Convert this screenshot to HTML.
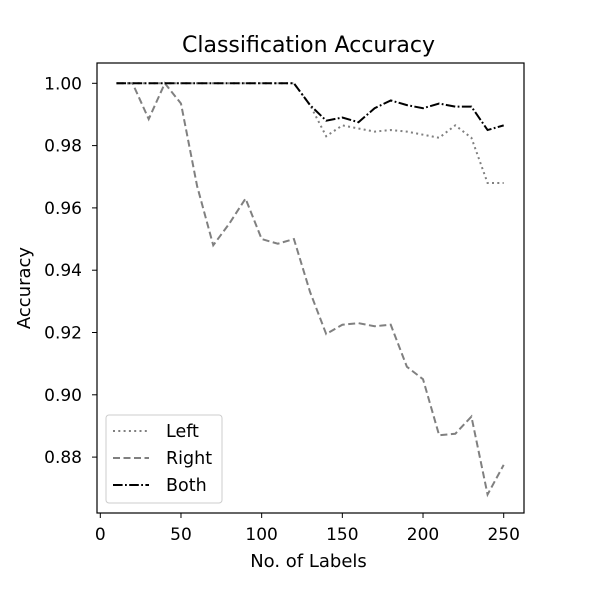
<!DOCTYPE html>
<html><head><meta charset="utf-8"><style>
body{margin:0;background:#fff;}
svg text{font-family:"DejaVu Sans","Liberation Sans",sans-serif;fill:#000;}
</style></head><body>
<svg id="chart" width="597" height="591" xmlns="http://www.w3.org/2000/svg">
<rect width="597" height="591" fill="#fff"/>
<g id="plot"></g>
</svg>
<script>
const xs=[10,20,30,40,50,60,70,80,90,100,110,120,130,140,150,160,170,180,190,200,210,220,230,240,250];
const leftVals=[1,1,1,1,1,1,1,1,1,1,1,1,0.993,0.983,0.9865,0.9855,0.9845,0.985,0.9845,0.9835,0.9825,0.9865,0.9825,0.968,0.968];
const rightVals=[1,1,0.9885,1,0.9935,0.967,0.948,0.955,0.963,0.950,0.9485,0.950,0.933,0.9195,0.9225,0.923,0.922,0.9225,0.909,0.905,0.887,0.8875,0.893,0.868,0.8775];
const bothVals=[1,1,1,1,1,1,1,1,1,1,1,1,0.993,0.988,0.989,0.9875,0.992,0.9945,0.993,0.992,0.9935,0.9925,0.9925,0.985,0.9865];
const xTicks=[0,50,100,150,200,250];
const yTicks=[0.88,0.90,0.92,0.94,0.96,0.98,1.00];
const X=v=>100.3+(v)*(503.7-100.3)/250;
const Y=v=>83.3+(1-v)*(62.3/0.02);
const L=97,R=524,T=63,B=513;
const NS="http://www.w3.org/2000/svg";
const g=document.getElementById('plot');
function mk(tag,attrs,parent){const e=document.createElementNS(NS,tag);for(const k in attrs)e.setAttribute(k,attrs[k]);(parent||g).appendChild(e);return e;}
function series(vals,name,color,dash,w){
  const p=mk('polyline',{points:xs.map((x,i)=>X(x)+','+Y(vals[i])).join(' '),fill:'none',stroke:color,'stroke-width':w,'stroke-dasharray':dash});
  
  
}
series(rightVals,'right-line','#808080','7,3.5',2);
series(leftVals,'left-line','#808080','2,3.3',2);
series(bothVals,'both-line','#000','9.6,2.4,1.8,2.4',2);
const frame=mk('rect',{x:L,y:T,width:R-L,height:B-T,fill:'none',stroke:'#000','stroke-width':1.2});


xTicks.forEach(t=>{
  mk('line',{x1:X(t),x2:X(t),y1:B,y2:B+5,stroke:'#000'});
  const tx=mk('text',{x:X(t),y:B+27,'text-anchor':'middle','font-size':17});
  tx.textContent=t;
  
  
});
yTicks.forEach(t=>{
  mk('line',{x1:L-5,x2:L,y1:Y(t),y2:Y(t),stroke:'#000'});
  const tx=mk('text',{x:L-15,y:Y(t)+6,'text-anchor':'end','font-size':17});
  tx.textContent=t.toFixed(2);
  
  
});
const title=mk('text',{x:(L+R)/2-2,y:52,'text-anchor':'middle','font-size':22});
title.textContent='Classification Accuracy';


const xl=mk('text',{x:(L+R)/2-2,y:567,'text-anchor':'middle','font-size':18});
xl.textContent='No. of Labels';


const yl=mk('text',{x:30,y:(T+B)/2,'text-anchor':'middle','font-size':18,transform:'rotate(-90 30 '+((T+B)/2)+')'});
yl.textContent='Accuracy';


const lg=mk('g',{});


mk('rect',{x:106,y:415,width:116,height:88,rx:3,fill:'#fff',stroke:'#ccc','stroke-width':1},lg);
const entries=[['Left','#808080','2,3.3'],['Right','#808080','7,3.5'],['Both','#000','9.6,2.4,1.8,2.4']];
entries.forEach((e,i)=>{
  const y=431+i*27;
  const ln=mk('line',{x1:113,x2:149,y1:y,y2:y,stroke:e[1],'stroke-width':2,'stroke-dasharray':e[2]},lg);
  
  
  const t=mk('text',{x:166,y:y+6,'font-size':17.5},lg);
  t.textContent=e[0];
  
  
});
</script>
</body></html>
